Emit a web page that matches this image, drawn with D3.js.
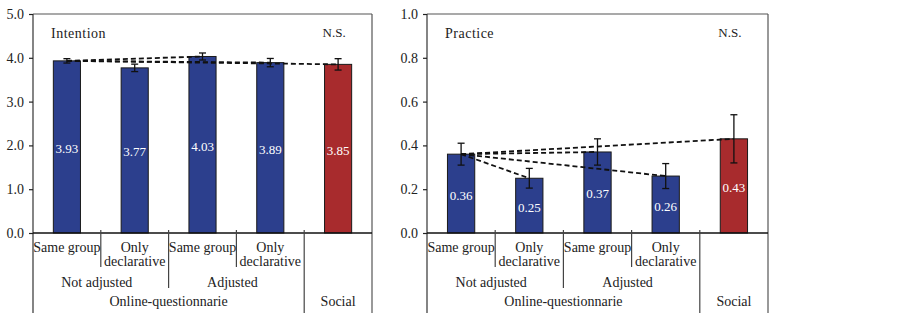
<!DOCTYPE html>
<html>
<head>
<meta charset="utf-8">
<script src="https://cdn.jsdelivr.net/npm/d3@7"></script>
<style>
  body { margin: 0; background: #fff; }
  svg text { font-family: "Times New Roman", "Liberation Serif", Tinos, "DejaVu Serif", serif !important; fill: #222; }
</style>
</head>
<body>
<script>
// categories along the x axis (multi-level)
var categories = ["Same group", "Only declarative", "Same group", "Only declarative", "Social"];
var catLines = [["Same group"], ["Only", "declarative"], ["Same group"], ["Only", "declarative"], []];
var groupLabels = ["Not adjusted", "Adjusted"];
var groupOf = [0, 0, 1, 1, -1];
var topLabels = ["Online-questionnarie", "Social"];
var topOf = [0, 0, 0, 0, 1];
var barColors = ["#2c3f8d", "#2c3f8d", "#2c3f8d", "#2c3f8d", "#a82b2d"];

// Intention panel
var intentionValues = [3.93, 3.77, 4.03, 3.89, 3.85];
var intentionErr = [0.05, 0.085, 0.08, 0.095, 0.13];
var intentionLinks = [[0, 2], [0, 3], [0, 4]];
var intentionTicks = [0, 1, 2, 3, 4, 5];

// Practice panel
var practiceValues = [0.36, 0.25, 0.37, 0.26, 0.43];
var practiceErr = [0.05, 0.045, 0.06, 0.057, 0.11];
var practiceLinks = [[0, 1], [0, 2], [0, 3], [0, 4]];
var practiceTicks = [0, 0.2, 0.4, 0.6, 0.8, 1.0];

var w = 902;
var h = 313;
var plotTop = 14, base = 233;

var svg = d3.select("body").append("svg")
    .attr("width", w)
    .attr("height", h);

function panel(x0, x1, title, values, errs, links, ticks) {
  var g = svg.append("g");

  var xScale = d3.scaleBand()
      .domain(d3.range(categories.length))
      .range([x0, x1])
      .paddingInner(0)
      .paddingOuter(0);
  var bw = xScale.bandwidth();
  var barW = bw * 0.4;

  var yScale = d3.scaleLinear()
      .domain([0, ticks[ticks.length - 1]])
      .range([base, plotTop]);

  // frame
  g.append("line").attr("x1", x0).attr("x2", x1).attr("y1", plotTop).attr("y2", plotTop)
      .attr("stroke", "#555").attr("stroke-width", 1.2);
  g.append("line").attr("x1", x1).attr("x2", x1).attr("y1", plotTop).attr("y2", h)
      .attr("stroke", "#555").attr("stroke-width", 1.2);
  g.append("line").attr("x1", x0).attr("x2", x0).attr("y1", plotTop).attr("y2", h)
      .attr("stroke", "#333").attr("stroke-width", 1.2);

  // y axis ticks
  var yAxis = d3.axisLeft(yScale)
      .tickValues(ticks)
      .tickSize(4)
      .tickPadding(5)
      .tickFormat(d3.format(".1f"));
  var ax = g.append("g")
      .attr("transform", "translate(" + x0 + ",0)")
      .call(yAxis)
      .attr("font-family", null)
      .attr("font-size", null);
  ax.select(".domain").remove();
  ax.selectAll(".tick line").attr("stroke", "#222").attr("stroke-width", 1.2);
  ax.selectAll(".tick text")
      .style("font-size", "14px")
      .attr("fill", "#222");

  // bars
  g.selectAll("rect.bar")
      .data(values)
      .enter()
      .append("rect")
      .attr("class", "bar")
      .attr("x", function(d, i) { return xScale(i) + (bw - barW) / 2; })
      .attr("y", function(d) { return yScale(d); })
      .attr("width", barW)
      .attr("height", function(d) { return base - yScale(d); })
      .attr("fill", function(d, i) { return barColors[i]; })
      .attr("stroke", "#1a1a1a")
      .attr("stroke-width", 1);

  // baseline
  g.append("line").attr("x1", x0).attr("x2", x1).attr("y1", base).attr("y2", base)
      .attr("stroke", "#111").attr("stroke-width", 1.3);

  // value labels
  g.selectAll("text.val")
      .data(values)
      .enter()
      .append("text")
      .attr("class", "val")
      .attr("x", function(d, i) { return xScale(i) + bw / 2; })
      .attr("y", function(d) { return (yScale(d) + base) / 2 + 6; })
      .attr("text-anchor", "middle")
      .style("font-size", "13px")
      .style("fill", "#fff")
      .text(function(d) { return d3.format(".2f")(d); });

  // dashed comparison lines
  g.selectAll("line.link")
      .data(links)
      .enter()
      .append("line")
      .attr("class", "link")
      .attr("x1", function(d) { return xScale(d[0]) + bw / 2; })
      .attr("y1", function(d) { return yScale(values[d[0]]); })
      .attr("x2", function(d) { return xScale(d[1]) + bw / 2; })
      .attr("y2", function(d) { return yScale(values[d[1]]); })
      .attr("stroke", "#111")
      .attr("stroke-width", 1.8)
      .attr("stroke-dasharray", "5,3");

  // error bars
  var eb = g.selectAll("g.err")
      .data(values)
      .enter()
      .append("g")
      .attr("class", "err")
      .attr("stroke", "#111")
      .attr("stroke-width", 1.3);
  eb.append("line")
      .attr("x1", function(d, i) { return xScale(i) + bw / 2; })
      .attr("x2", function(d, i) { return xScale(i) + bw / 2; })
      .attr("y1", function(d, i) { return yScale(d + errs[i]); })
      .attr("y2", function(d, i) { return yScale(d - errs[i]); });
  eb.append("line")
      .attr("x1", function(d, i) { return xScale(i) + bw / 2 - 3.5; })
      .attr("x2", function(d, i) { return xScale(i) + bw / 2 + 3.5; })
      .attr("y1", function(d, i) { return yScale(d + errs[i]); })
      .attr("y2", function(d, i) { return yScale(d + errs[i]); });
  eb.append("line")
      .attr("x1", function(d, i) { return xScale(i) + bw / 2 - 3.5; })
      .attr("x2", function(d, i) { return xScale(i) + bw / 2 + 3.5; })
      .attr("y1", function(d, i) { return yScale(d - errs[i]); })
      .attr("y2", function(d, i) { return yScale(d - errs[i]); });

  // titles
  g.append("text")
      .attr("x", x0 + 18)
      .attr("y", 38)
      .style("font-size", "14px")
      .style("letter-spacing", "0.5px")
      .text(title);
  g.append("text")
      .attr("x", xScale(4) + bw / 2 - 4)
      .attr("y", 37)
      .attr("text-anchor", "middle")
      .style("font-size", "13px")
      .text("N.S.");

  // category separators under the axis
  for (var i = 1; i < categories.length; i++) {
    var xb = xScale(i);
    var yEnd;
    if (topOf[i] !== topOf[i - 1]) yEnd = h;
    else if (groupOf[i] !== groupOf[i - 1]) yEnd = base + 55;
    else yEnd = base + 34;
    g.append("line")
        .attr("x1", xb).attr("x2", xb)
        .attr("y1", base - 3).attr("y2", yEnd)
        .attr("stroke", "#444").attr("stroke-width", 1.2);
  }

  // first row labels
  catLines.forEach(function(lines, i) {
    lines.forEach(function(t, k) {
      g.append("text")
          .attr("x", xScale(i) + bw / 2)
          .attr("y", base + 19 + k * 14)
          .attr("text-anchor", "middle")
          .style("font-size", "14px")
          .text(t);
    });
  });

  // group row
  groupLabels.forEach(function(t, gi) {
    var idx = d3.range(categories.length).filter(function(i) { return groupOf[i] === gi; });
    var a = xScale(idx[0]), b = xScale(idx[idx.length - 1]) + bw;
    g.append("text")
        .attr("x", (a + b) / 2 - 4)
        .attr("y", base + 54)
        .attr("text-anchor", "middle")
        .style("font-size", "14px")
        .text(t);
  });

  // top row
  topLabels.forEach(function(t, ti) {
    var idx = d3.range(categories.length).filter(function(i) { return topOf[i] === ti; });
    var a = xScale(idx[0]), b = xScale(idx[idx.length - 1]) + bw;
    g.append("text")
        .attr("x", (a + b) / 2)
        .attr("y", base + 73)
        .attr("text-anchor", "middle")
        .style("font-size", "14px")
        .text(t);
  });
}

panel(33, 372, "Intention", intentionValues, intentionErr, intentionLinks, intentionTicks);
panel(427, 768, "Practice", practiceValues, practiceErr, practiceLinks, practiceTicks);
</script>
</body>
</html>
